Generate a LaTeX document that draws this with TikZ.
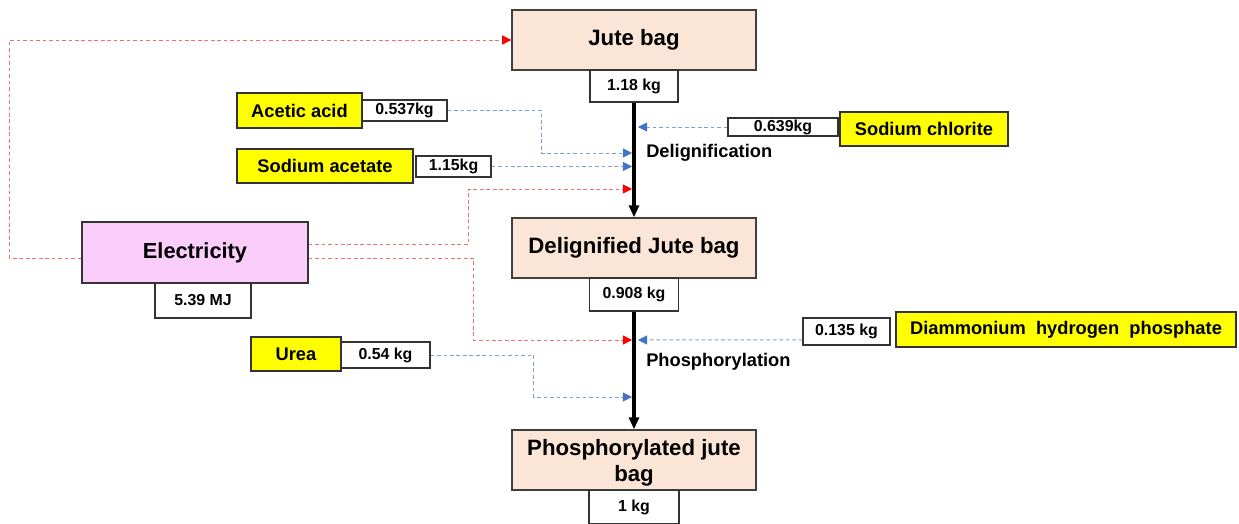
\documentclass[tikz,border=0pt]{standalone}
\usepackage{fontspec}
\setmainfont{Liberation Sans}
\usetikzlibrary{arrows.meta}
\definecolor{peach}{HTML}{FBE5D6}
\definecolor{elecpink}{HTML}{FACDFA}
\definecolor{chemyellow}{HTML}{FFFF00}
\definecolor{bluefeed}{HTML}{7F9FD8}
\definecolor{bluetip}{HTML}{4472C4}
\definecolor{redfeed}{HTML}{F07070}
\definecolor{redtip}{HTML}{FF0000}

\begin{document}
\begin{tikzpicture}[x=0.025cm,y=-0.025cm]
    \tikzstyle{stage}=[draw=black!75, line width=0.9pt, fill=peach, inner sep=0pt,
        minimum width=6.1cm, minimum height=1.5cm, align=center,
        font=\bfseries\fontsize{15.8}{18.8}\selectfont]
    \tikzstyle{amount}=[draw=black!80, line width=0.8pt, fill=white, inner sep=0pt,
        font=\bfseries\fontsize{11.3}{13}\selectfont]
    \tikzstyle{chem}=[draw=black!80, line width=0.9pt, fill=chemyellow, inner sep=0pt,
        minimum height=0.85cm, font=\bfseries\fontsize{13}{15}\selectfont]
    \tikzstyle{steplabel}=[anchor=west, inner sep=0pt, font=\bfseries\fontsize{13}{15}\selectfont]
    \tikzstyle{flow}=[line width=2.2pt, -{Triangle[length=8.5pt,width=7pt]}]
    \tikzstyle{bluein}=[draw=bluefeed, line width=0.7pt, dash pattern=on 2.6pt off 2pt,
        -{Triangle[length=6.5pt,width=6.5pt,color=bluetip]}]
    \tikzstyle{redin}=[draw=redfeed, line width=0.7pt, dash pattern=on 2.6pt off 2pt,
        -{Triangle[length=6.5pt,width=6.5pt,color=redtip]}]

    \useasboundingbox (0,0) rectangle (1239,524);

    \node[stage] (jutebag) at (634,40) {Jute bag};
    \node[amount, minimum width=2.2cm, minimum height=0.8cm] (jutebagkg) at (634,86) {1.18 kg};
    \node[stage] (deligbag) at (634,248) {Delignified Jute bag};
    \node[amount, minimum width=2.225cm, minimum height=0.825cm] (deligbagkg) at (634,294.5) {0.908 kg};
    \node[stage] (phosbag) at (634,460) {\raisebox{-2.2pt}[\height][\depth]{\begin{tabular}{@{}c@{}}Phosphorylated jute\\bag\end{tabular}}};
    \node[amount, minimum width=2.25cm, minimum height=0.82cm] (phosbagkg) at (634,507) {1 kg};

    \node[chem, minimum width=3.125cm, minimum height=0.875cm] (acetic) at (299.5,110.5) {Acetic acid};
    \node[amount, minimum width=2.125cm, minimum height=0.525cm] (aceticamt) at (404.5,110.5) {0.537kg};
    \node[chem, minimum width=4.4cm] (sodacet) at (325,166) {Sodium acetate};
    \node[amount, minimum width=1.875cm, minimum height=0.525cm] (sodacetamt) at (453.5,166.5) {1.15kg};
    \node[chem, minimum width=4.2cm] (sodchl) at (924,129) {Sodium chlorite};
    \node[amount, minimum width=2.75cm, minimum height=0.45cm] (sodchlamt) at (783,127) {0.639kg};
    \node[chem, minimum width=5.65cm, minimum height=1.525cm, fill=elecpink,
        font=\bfseries\fontsize{15.5}{18.5}\selectfont] (elec) at (195,252.5) {Electricity};
    \node[amount, minimum width=2.4cm, minimum height=0.875cm] (elecamt) at (203,300.5) {5.39 MJ};
    \node[chem, minimum width=2.25cm] (urea) at (296,354) {Urea};
    \node[amount, minimum width=2.225cm, minimum height=0.65cm] (ureaamt) at (385.5,355) {0.54 kg};
    \node[chem, minimum width=8.5cm, minimum height=0.875cm] (dap) at (1066,329.5) {Diammonium\ \ hydrogen\ \ phosphate};
    \node[amount, minimum width=2.175cm, minimum height=0.675cm] (dapamt) at (846.5,331.5) {0.135 kg};

    \node[steplabel] (delignif) at (646,153) {Delignification};
    \node[steplabel] (phosphor) at (646,362) {Phosphorylation};

    \coordinate (aceticin) at (632,153);
    \coordinate (sodacetin) at (632,166.5);
    \coordinate (sodchlin) at (638,127);
    \coordinate (elecin) at (632,189);
    \coordinate (elecin2) at (632,340);
    \coordinate (dapin) at (638,340);
    \coordinate (ureain) at (632,397);

    \draw[flow] (jutebagkg.south) -- (deligbag.north);
    \draw[flow] (deligbagkg.south) -- (phosbag.north);

    \draw[bluein] (aceticamt.east) -- ++(94,0) |- (aceticin);
    \draw[bluein] (sodacetamt.east) -- (sodacetin);
    \draw[bluein] (sodchlamt.west) -- (sodchlin);
    \draw[bluein] ([yshift=-0.21cm]dapamt.west) -- (dapin);
    \draw[bluein] (ureaamt.east) -- ++(103,0) |- (ureain);

    \draw[redin] ([yshift=-0.14cm]elec.west) -- ++(-72,0) |- (jutebag.west);
    \draw[redin] ([yshift=0.21cm]elec.east) -- ++(160,0) |- (elecin);
    \draw[redin] ([yshift=-0.14cm]elec.east) -- ++(165,0) |- (elecin2);
\end{tikzpicture}
\end{document}
